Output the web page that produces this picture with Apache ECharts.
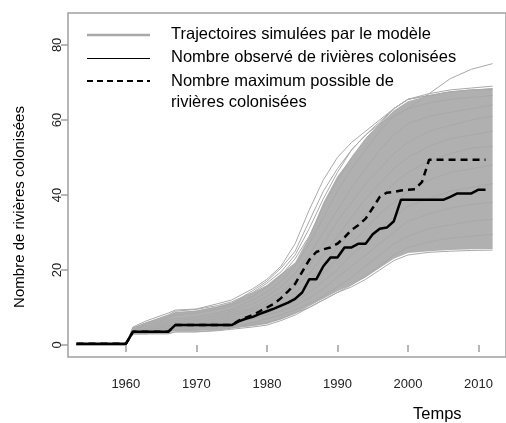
<!DOCTYPE html>
<html>
<head>
<meta charset="utf-8">
<script src="https://cdn.jsdelivr.net/npm/echarts@6/dist/echarts.min.js"></script>
<style>
  html, body { margin: 0; padding: 0; background: #ffffff; }
  #chart { width: 506px; height: 423px; }
</style>
</head>
<body>
<div id="chart"></div>
<script>
// années observées
const years = [1953, 1954, 1955, 1956, 1957, 1958, 1959, 1960, 1961, 1962, 1963, 1964, 1965, 1966,
  1967, 1968, 1969, 1970, 1971, 1972, 1973, 1974, 1975, 1976, 1977, 1978, 1979, 1980, 1981, 1982,
  1983, 1984, 1985, 1986, 1987, 1988, 1989, 1990, 1991, 1992, 1993, 1994, 1995, 1996, 1997, 1998,
  1999, 2000, 2001, 2002, 2003, 2004, 2005, 2006, 2007, 2008, 2009, 2010, 2011]

// nombre observé de rivières colonisées
const observed = [0.3, 0.3, 0.3, 0.3, 0.3, 0.3, 0.3, 0.3, 3.5, 3.5, 3.5, 3.5, 3.5, 3.5,
  5.3, 5.3, 5.3, 5.3, 5.3, 5.3, 5.3, 5.3, 5.3, 6.3, 7, 7.5, 8.3, 9, 9.7, 10.5,
  11.3, 12.3, 14, 17.5, 17.5, 21, 23.3, 23.3, 26, 26, 27, 27, 29.5, 31, 31.3, 33,
  38.7, 38.7, 38.7, 38.7, 38.7, 38.7, 38.7, 39.5, 40.4, 40.4, 40.4, 41.4, 41.4]

// nombre maximum possible
const maxPossible = [0.3, 0.3, 0.3, 0.3, 0.3, 0.3, 0.3, 0.3, 3.5, 3.5, 3.5, 3.5, 3.5, 3.5,
  5.3, 5.3, 5.3, 5.3, 5.3, 5.3, 5.3, 5.3, 5.3, 6.5, 7.3, 8, 9, 10, 11, 12.5,
  14.3, 16.3, 19.5, 22.7, 24.8, 25.5, 26, 27, 28.7, 30.7, 32, 33.7, 36.5, 39.5, 40.6, 40.8,
  41.2, 41.4, 41.5, 43.5, 49.4, 49.4, 49.4, 49.4, 49.4, 49.4, 49.4, 49.4, 49.4]

// années clés des trajectoires simulées
const simYears = [1953, 1960, 1961, 1963, 1966, 1967, 1970, 1973, 1975, 1978, 1980, 1982, 1984,
  1986, 1988, 1990, 1992, 1994, 1996, 1998, 2000, 2003, 2006, 2009, 2012]

// zone dense du faisceau simulé
const simLower = [0, 0, 3.2, 3.2, 3.3, 3.7, 3.7, 4, 4.4, 5, 5.6, 6.8, 8.3, 10.3, 12.3, 14.3, 16, 18, 20.5, 23, 24.5, 25, 25.3, 25.5, 25.6]
const simUpper = [0.5, 0.5, 4.5, 6, 8, 8.8, 9.2, 10.3, 11.3, 14, 16, 19, 22, 29, 38, 45, 50, 55, 59, 62.5, 65, 66.5, 67.5, 68, 68.5]

// quelques trajectoires individuelles
const simTrajectories = [
  [0, 0, 4.5, 6, 8, 9, 9.5, 10.5, 11.5, 14, 16.5, 19.5, 24, 31, 39, 46, 52, 56, 59, 61, 63, 67, 71, 73.5, 75],
  [0, 0, 4.8, 6.5, 8.5, 9.3, 9.6, 11, 12, 15, 17.5, 21, 27, 36, 44, 50, 54, 57, 60, 63, 65.5, 67, 68, 68.5, 69],
  [0, 0, 4.5, 6, 7.5, 8.5, 9, 10, 11, 14.5, 17, 20.5, 25, 33, 41, 47, 52, 56, 59.5, 63, 65.5, 66.5, 67.5, 68, 68.3],
  [0, 0, 4, 5.5, 7, 8, 8.5, 9.5, 10.5, 13, 15.5, 18.5, 23, 29, 37, 44, 50, 55, 59, 63, 65.5, 66.5, 67.5, 68, 68],
  [0, 0, 4, 5, 6.5, 7, 7.5, 8.5, 9.5, 12, 14, 17, 21, 27, 34, 41, 47, 52, 57, 61, 63, 64.5, 65.5, 66, 66.5],
  [0, 0, 3.5, 4.5, 6, 6.5, 7, 8, 9, 11, 13, 15.5, 19, 24, 30, 36, 42, 47, 52, 56, 59, 61, 62, 63, 64],
  [0, 0, 3.5, 4.5, 5.5, 6, 6.5, 7.5, 8.5, 10, 12, 14, 17, 21, 27, 33, 38, 43, 47, 51, 54, 57, 58.5, 60, 61],
  [0, 0, 3, 4, 5, 5.5, 6, 7, 8, 9.5, 11, 13, 15.5, 19, 24, 29, 34, 39, 43, 47, 50, 53, 55, 56, 57],
  [0, 0, 3, 4, 5, 5, 5.5, 6.5, 7.5, 9, 10, 12, 14, 17, 21, 26, 30, 35, 39, 43, 46, 49, 51, 52.5, 53],
  [0, 0, 3, 3.5, 4.5, 5, 5.5, 6, 7, 8, 9.5, 11, 13, 15.5, 19, 23, 27, 31, 35, 38, 41, 44, 46, 47, 48],
  [0, 0, 3, 3.5, 4, 4.5, 5, 5.5, 6.5, 7.5, 8.5, 10, 11.5, 14, 17, 20, 24, 27, 31, 34, 37, 39, 41, 42, 43],
  [0, 0, 3, 3, 4, 4, 4.5, 5, 6, 7, 8, 9, 10.5, 12.5, 15, 18, 21, 24, 27, 30, 33, 35, 36.5, 37.5, 38],
  [0, 0, 3, 3, 3.5, 4, 4, 4.5, 5, 6, 7, 8, 9.5, 11, 13, 15.5, 18, 21, 24, 27, 29, 31, 32, 33, 33.5],
  [0, 0, 3, 3, 3, 3.5, 3.5, 4, 4.5, 5.5, 6, 7, 8.5, 10, 12, 14, 16, 18.5, 21, 24, 26, 27.5, 28.5, 29, 29.5],
  [0, 0, 3, 3, 3, 3.5, 3.5, 3.8, 4.2, 4.8, 5.3, 6.5, 8, 10, 12, 14, 15.5, 17.5, 20, 22.5, 24, 24.7, 25, 25.2, 25.3]
]

const xTicks = [1960, 1970, 1980, 1990, 2000, 2010]
const yTicks = [0, 20, 40, 60, 80]

const legendLabels = [
  'Trajectoires simulées par le modèle',
  'Nombre observé de rivières colonisées',
  'Nombre maximum possible de\nrivières colonisées'
]

const simGrey = '#a9a9a9'
const bandGrey = '#b0b0b0'
const axisGrey = '#a0a0a0'
const font = 'Liberation Sans, Arial, sans-serif'

const chart = echarts.init(document.getElementById('chart'))

const pairs = (xs, ys) => xs.map((x, i) => [x, ys[i]])

const series = [
  {
    // remplissage de la zone dense du faisceau
    type: 'custom',
    data: [[simYears[0], simLower[0]]],
    silent: true,
    z: 1,
    renderItem(params, api) {
      const top = simYears.map((x, i) => api.coord([x, simUpper[i]]))
      const bottom = simYears.map((x, i) => api.coord([x, simLower[i]])).reverse()
      return {
        type: 'polygon',
        shape: { points: top.concat(bottom) },
        style: { fill: bandGrey, stroke: null },
      }
    },
  },
]

simTrajectories.forEach((traj) => {
  series.push({
    type: 'line',
    data: pairs(simYears, traj),
    symbol: 'none',
    lineStyle: { color: simGrey, width: 1 },
    silent: true,
    z: 2,
  })
})

series.push({
  name: 'observé',
  type: 'line',
  data: pairs(years, observed),
  symbol: 'none',
  lineStyle: { color: '#000000', width: 2.5 },
  z: 5,
})

series.push({
  name: 'maximum',
  type: 'line',
  data: pairs(years, maxPossible),
  symbol: 'none',
  lineStyle: { color: '#000000', width: 2.5, type: [7, 5] },
  z: 6,
})

// légende dessinée à la main, comme dans la figure R
const legendGraphics = [
  { type: 'line', shape: { x1: 87, y1: 35, x2: 150, y2: 35 }, style: { stroke: simGrey, lineWidth: 2.5 } },
  { type: 'line', shape: { x1: 87, y1: 58.5, x2: 150, y2: 58.5 }, style: { stroke: '#000', lineWidth: 1 } },
  { type: 'line', shape: { x1: 87, y1: 81, x2: 150, y2: 81 }, style: { stroke: '#000', lineWidth: 2, lineDash: [6, 4] } },
  { type: 'text', left: 171, top: 26, style: { text: legendLabels[0], font: '16.5px ' + font, fill: '#000' } },
  { type: 'text', left: 171, top: 49, style: { text: legendLabels[1], font: '16.5px ' + font, fill: '#000' } },
  { type: 'text', left: 171, top: 71, style: { text: legendLabels[2], font: '16.5px ' + font, fill: '#000', lineHeight: 21 } },
  { type: 'text', left: 413, top: 406, style: { text: 'Temps', font: '16.5px ' + font, fill: '#000' } },
  {
    type: 'text', x: 20, y: 207, rotation: Math.PI / 2,
    style: { text: 'Nombre de rivières colonisées', font: '15px ' + font, fill: '#000', align: 'center', verticalAlign: 'middle' }
  },
]

chart.setOption({
  animation: false,
  grid: {
    left: 68,
    right: 0,
    top: 13,
    bottom: 66,
    show: true,
    borderColor: axisGrey,
    borderWidth: 1.5,
  },
  xAxis: {
    type: 'value',
    min: 1951.8,
    max: 2013.9,
    splitLine: { show: false },
    axisLine: { show: false },
    axisTick: { show: true, length: 7, lineStyle: { color: axisGrey, width: 1.5 }, customValues: xTicks },
    axisLabel: {
      color: '#222', fontSize: 13, fontFamily: font, margin: 21, customValues: xTicks,
      formatter: (v) => String(v),
    },
  },
  yAxis: {
    type: 'value',
    min: -3.2,
    max: 88.5,
    splitLine: { show: false },
    axisLine: { show: false },
    axisTick: { show: true, length: 7, lineStyle: { color: axisGrey, width: 1.5 }, customValues: yTicks },
    axisLabel: {
      color: '#222', fontSize: 13, fontFamily: font, margin: 4, rotate: 90, customValues: yTicks,
      formatter: (v) => String(v),
    },
  },
  graphic: legendGraphics,
  series,
})
</script>
</body>
</html>
